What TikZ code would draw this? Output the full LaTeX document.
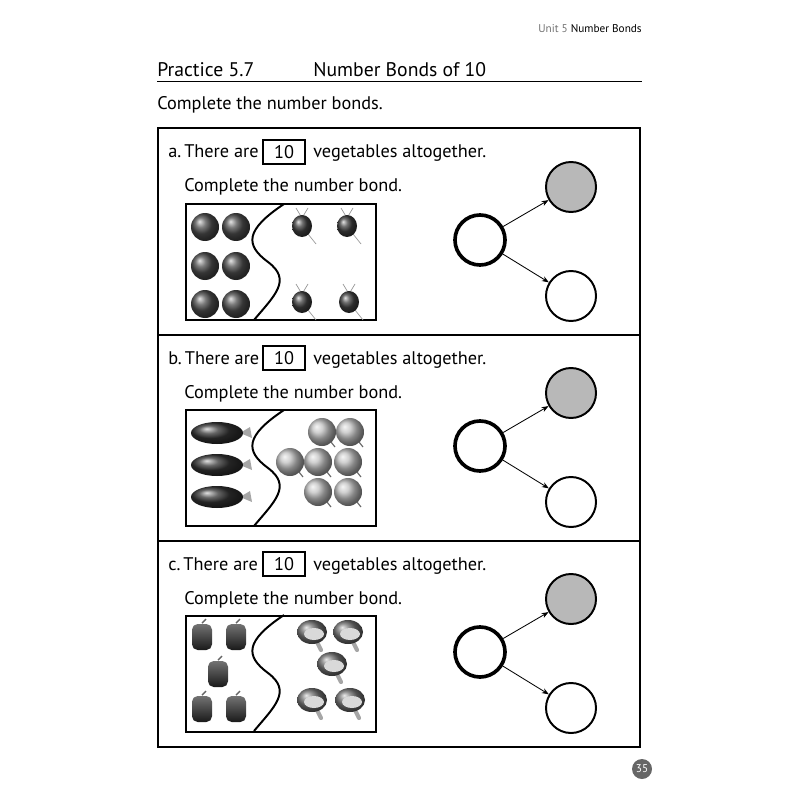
\documentclass[tikz,border=0pt]{standalone}
\usepackage{fontspec}
\setmainfont{PT Sans}
\usetikzlibrary{arrows.meta}
\usetikzlibrary{positioning}
\begin{document}
\begin{tikzpicture}[x=0.025cm,y=-0.025cm,font=\fontsize{13}{15}\selectfont,>={Stealth[length=5pt]},
                      txt/.style={anchor=base west,inner sep=0},
                      numbox/.style={draw,line width=1.4pt,minimum width=1.05cm,minimum height=0.6cm,inner sep=0},
                      bond/.style={circle,draw,line width=1.4pt,minimum size=1.25cm,inner sep=0},
                      wbond/.style={bond,line width=2.6pt},
                      gbond/.style={bond,fill=black!28},
                      frame/.style={draw,line width=1.6pt},
                      ]
  \useasboundingbox (0,0) rectangle (800,800);
  % header
  \node[anchor=base east,inner sep=0,font=\fontsize{8}{9}\selectfont] (unit) at (642,33) {\textcolor{black!55}{Unit 5} Number Bonds};
  \node[txt,font=\fontsize{14}{16}\selectfont] (practice) at (157,77) {Practice 5.7};
  \node[txt,font=\fontsize{14}{16}\selectfont] (title) at (313,77) {Number Bonds of 10};
  \draw[line width=0.6pt] (157,81) -- (642,81);
  \node[txt] (intro) at (157,110) {Complete the number bonds.};
  % outer box
  \draw[line width=0.8pt] (158,128) rectangle (640,747);
  \draw[line width=0.8pt] (158,335) -- (640,335);
  \draw[line width=0.8pt] (158,541) -- (640,541);
  % rows
  \foreach \lab/\dy in {a/0,b/206,c/412}{
    \begin{scope}[yshift=-\dy*0.025cm]
      \node[txt] (there\lab) at (168,158) {\lab.\,There are};
      \node[numbox] (num\lab) at (284,152) {10};
      \node[txt] (veg\lab) at (313,158) {vegetables altogether.};
      \node[txt] (comp\lab) at (184,192) {Complete the number bond.};
      \draw[frame] (186,204) rectangle (376,320);
      \node[wbond] (whole\lab) at (480,240) {};
      \node[gbond] (parta\lab) at (571,187) {};
      \node[bond] (partb\lab) at (571,296) {};
      \draw[->,line width=0.6pt] (whole\lab) -- (parta\lab);
      \draw[->,line width=0.6pt] (whole\lab) -- (partb\lab);
    \end{scope}
  }
  % dividing curves
  \foreach \dy in {0,206,411}{
    \draw[line width=1.4pt,yshift=-\dy*0.025cm] (284,204) .. controls (245,230) and (245,245) .. (268,262)
      .. controls (292,280) and (275,295) .. (254,320);
  }
  % tomatoes
  \foreach \x/\y in {205/227,236/227,205/266,236/266,205/304,236/304}{
    \shade[ball color=black!70] (\x,\y) circle (14);
  }
  % radishes
  \foreach \x/\y in {302/226,347/226,302/302,349/302}{
    \draw[black!40,line width=0.5pt] (\x-6,\y-18) -- (\x,\y-8) -- (\x+6,\y-18);
    \draw[black!40,line width=0.5pt] (\x+6,\y+8) -- (\x+14,\y+18);
    \shade[ball color=black!75] (\x,\y) ellipse (10 and 11);
  }
  % eggplants
  \foreach \y in {433,465,497}{
    \fill[black!35] (240,\y) -- (250,\y-6) -- (252,\y+5) -- cycle;
    \shade[ball color=black!80] (217,\y) ellipse (26 and 11);
  }
  % onions
  \foreach \x/\y in {322/432,350/432,290/462,318/462,348/462,318/492,348/492}{
    \shade[ball color=black!25] (\x,\y) circle (14);
    \draw[black!60,line width=0.8pt] (\x+9,\y+10) -- (\x+13,\y+15);
  }
  % peppers
  \foreach \x/\y in {202/636,236/636,218/673,202/708,236/708}{
    \draw[black!60,line width=1pt] (\x,\y-13) -- (\x+4,\y-17);
    \shade[top color=black!55,bottom color=black!90,rounded corners=4pt] (\x-10,\y-12) rectangle (\x+10,\y+14);
  }
  % mushrooms
  \foreach \x/\y in {312/632,348/632,332/664,312/700,350/700}{
    \draw[black!35,line width=3pt,line cap=round] (\x,\y) -- (\x+9,\y+18);
    \shade[ball color=black!55] (\x,\y) ellipse (15 and 12);
    \fill[black!15] (\x+2,\y+2) ellipse (10 and 6);
  }
  % page number
  \node[circle,fill=black!60,minimum size=0.5cm,inner sep=0,text=white,font=\fontsize{8}{9}\selectfont] (page) at (642,769) {35};
\end{tikzpicture}
\end{document}
